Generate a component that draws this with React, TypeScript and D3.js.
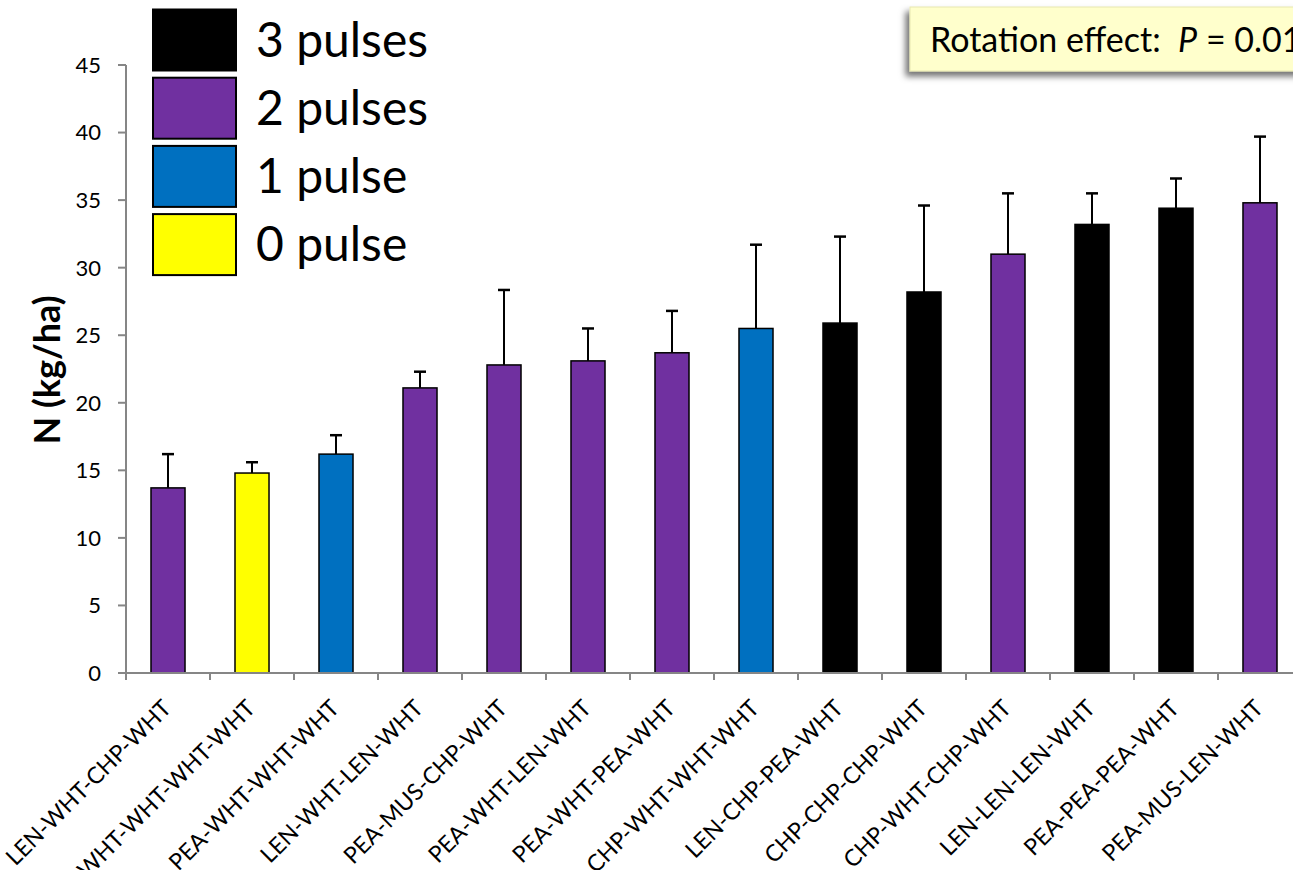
import React, { useEffect, useRef } from 'react';
import * as d3 from 'd3';

const W = 1293;
const H = 870;
const MARGIN = { top: 65, left: 126, bottom: 197 };
const STEP = 84;

const rotations = [
    'LEN-WHT-CHP-WHT', 'WHT-WHT-WHT-WHT', 'PEA-WHT-WHT-WHT', 'LEN-WHT-LEN-WHT',
    'PEA-MUS-CHP-WHT', 'PEA-WHT-LEN-WHT', 'PEA-WHT-PEA-WHT', 'CHP-WHT-WHT-WHT',
    'LEN-CHP-PEA-WHT', 'CHP-CHP-CHP-WHT', 'CHP-WHT-CHP-WHT', 'LEN-LEN-LEN-WHT',
    'PEA-PEA-PEA-WHT', 'PEA-MUS-LEN-WHT',
];
const nValues = [13.7, 14.8, 16.2, 21.1, 22.8, 23.1, 23.7, 25.5, 25.9, 28.2, 31.0, 33.2, 34.4, 34.8];
const errValues = [2.5, 0.8, 1.4, 1.2, 5.55, 2.4, 3.1, 6.2, 6.4, 6.4, 4.5, 2.3, 2.2, 4.9];
const pulseCounts = [2, 0, 1, 2, 2, 2, 2, 1, 3, 3, 2, 3, 3, 2];

const legendLabels = ['3 pulses', '2 pulses', '1 pulse', '0 pulse'];
const legendPulses = [3, 2, 1, 0];
const pulseColors: Record<number, string> = { 0: '#FFFF00', 1: '#0070C0', 2: '#7030A0', 3: '#000000' };

const yTicks = [0, 5, 10, 15, 20, 25, 30, 35, 40, 45];

export default function App() {
    const svgRef = useRef<SVGSVGElement>(null);

    useEffect(() => {
        if (!svgRef.current) return;
        const svg = d3.select(svgRef.current);
        svg.selectAll('*').remove();

        const font = 'Lato, "Open Sans", sans-serif';
        const axisColor = '#868686';
        const baseY = H - MARGIN.bottom; // 673

        const x = d3.scaleBand<string>()
            .domain(rotations)
            .range([MARGIN.left, MARGIN.left + STEP * rotations.length])
            .paddingInner(0.595)
            .paddingOuter(0.2976);
        const y = d3.scaleLinear().domain([0, 45]).range([baseY, MARGIN.top]);

        // 註解框陰影
        const defs = svg.append('defs');
        const f = defs.append('filter').attr('id', 'shadow')
            .attr('filterUnits', 'userSpaceOnUse')
            .attr('x', 880).attr('y', 0).attr('width', 500).attr('height', 100);
        f.append('feDropShadow').attr('dx', -4).attr('dy', 5).attr('stdDeviation', 3)
            .attr('flood-color', '#000').attr('flood-opacity', 0.55);

        // y axis
        svg.append('line')
            .attr('x1', MARGIN.left).attr('x2', MARGIN.left)
            .attr('y1', y(45)).attr('y2', baseY)
            .attr('stroke', axisColor).attr('stroke-width', 2);
        svg.selectAll('.ytick').data(yTicks).enter().append('line')
            .attr('x1', MARGIN.left - 8).attr('x2', MARGIN.left)
            .attr('y1', d => y(d)).attr('y2', d => y(d))
            .attr('stroke', axisColor).attr('stroke-width', 2);
        svg.selectAll('.ylab').data(yTicks).enter().append('text')
            .attr('x', 101).attr('y', d => y(d))
            .attr('dy', '0.36em')
            .attr('text-anchor', 'end')
            .style('font-family', font).style('font-size', '22px').style('fill', '#000')
            .text(d => d);

        svg.append('text')
            .attr('transform', `translate(60, ${370}) rotate(-90)`)
            .attr('text-anchor', 'middle')
            .style('font-family', font).style('font-size', '36px').style('font-weight', 'bold')
            .text('N (kg/ha)');

        // bars + error bars
        const data = rotations.map((r, i) => ({ r, v: nValues[i], e: errValues[i], p: pulseCounts[i] }));

        const errs = svg.append('g');
        errs.selectAll('line.stem').data(data).enter().append('line')
            .attr('x1', d => x(d.r)! + x.bandwidth() / 2).attr('x2', d => x(d.r)! + x.bandwidth() / 2)
            .attr('y1', d => y(d.v)).attr('y2', d => y(d.v + d.e))
            .attr('stroke', '#000').attr('stroke-width', 2);
        errs.selectAll('line.cap').data(data).enter().append('line')
            .attr('x1', d => x(d.r)! + x.bandwidth() / 2 - 6).attr('x2', d => x(d.r)! + x.bandwidth() / 2 + 6)
            .attr('y1', d => y(d.v + d.e)).attr('y2', d => y(d.v + d.e))
            .attr('stroke', '#000').attr('stroke-width', 2.5);

        svg.selectAll('rect.bar').data(data).enter().append('rect')
            .attr('x', d => x(d.r)!)
            .attr('y', d => y(d.v))
            .attr('width', x.bandwidth())
            .attr('height', d => baseY - y(d.v))
            .attr('fill', d => pulseColors[d.p])
            .attr('stroke', '#000').attr('stroke-width', 1.5);

        // x axis
        svg.append('line')
            .attr('x1', MARGIN.left).attr('x2', MARGIN.left + STEP * rotations.length)
            .attr('y1', baseY).attr('y2', baseY)
            .attr('stroke', axisColor).attr('stroke-width', 2);
        const bounds = d3.range(rotations.length + 1).map(i => i === rotations.length
            ? x(rotations[i - 1])! + x.bandwidth() + x.step() * x.paddingInner() / 2
            : x(rotations[i])! - x.step() * x.paddingInner() / 2);
        svg.selectAll('.xtick').data(bounds).enter().append('line')
            .attr('x1', d => d).attr('x2', d => d)
            .attr('y1', baseY).attr('y2', baseY + 7)
            .attr('stroke', axisColor).attr('stroke-width', 2);
        svg.selectAll('.xlab').data(rotations).enter().append('text')
            .attr('transform', d => `translate(${x(d)! + x.bandwidth() / 2 - 1}, ${baseY + 31}) rotate(-45)`)
            .attr('text-anchor', 'end')
            .attr('dy', '0.35em')
            .style('font-family', font).style('font-size', '23px').style('fill', '#000')
            .text(d => d);

        // legend
        const leg = svg.append('g');
        legendLabels.forEach((lab, i) => {
            const top = 9.5 + i * 68.2;
            leg.append('rect')
                .attr('x', 153).attr('y', top).attr('width', 83).attr('height', 61)
                .attr('fill', pulseColors[legendPulses[i]])
                .attr('stroke', '#000').attr('stroke-width', 2);
            leg.append('text')
                .attr('x', 256).attr('y', top + 47)
                .style('font-family', font).style('font-size', '48px').style('fill', '#000')
                .text(lab);
        });

        // annotation box
        svg.append('rect')
            .attr('x', 910).attr('y', 7).attr('width', 460).attr('height', 64)
            .attr('fill', '#FFFFCC').attr('stroke', '#e8e8b0').attr('stroke-width', 1)
            .attr('filter', 'url(#shadow)');
        const ann = svg.append('text')
            .attr('x', 930).attr('y', 52)
            .attr('xml:space', 'preserve')
            .style('white-space', 'pre')
            .style('font-family', font).style('font-size', '34px').style('fill', '#000');
        ann.append('tspan').text('Rotation effect:  ');
        ann.append('tspan').style('font-style', 'italic').text('P');
        ann.append('tspan').text(' = 0.01');
    }, []);

    return (
        <svg ref={svgRef} width={W} height={H}
            style={{ position: 'absolute', left: 0, top: 0, background: '#fff', overflow: 'hidden' }} />
    );
}
